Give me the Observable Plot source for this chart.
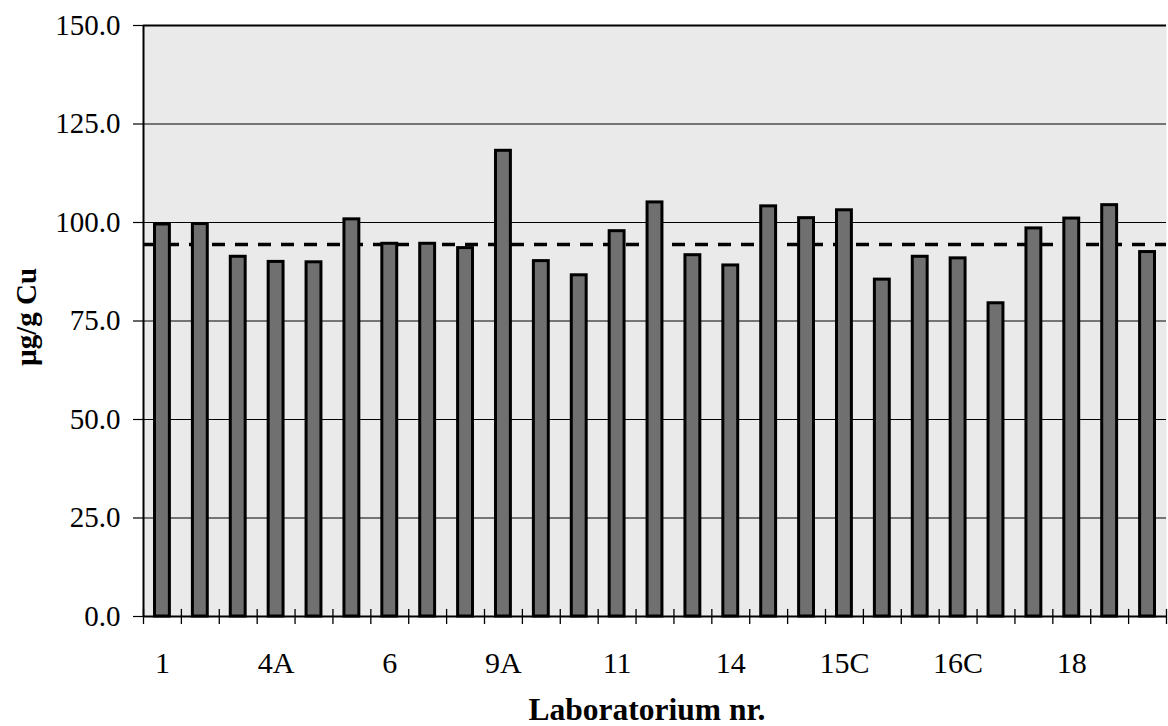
<!DOCTYPE html>
<html>
<head>
<meta charset="utf-8">
<script src="https://cdn.jsdelivr.net/npm/d3@7"></script>
<script src="https://cdn.jsdelivr.net/npm/@observablehq/plot@0.6"></script>
<style>
  html, body { margin: 0; padding: 0; background: #ffffff; }
  svg { display: block; }
  svg text { font-family: "Liberation Serif", "DejaVu Serif", serif; fill: #000; }
</style>
</head>
<body>
<div id="chart"></div>
<script>
// Laboratory codes (only every third is printed on the axis)
const labs = ["1","2","3","4A","4B","5","6","7","8","9A","9B","10","11","12","13","14",
              "15A","15B","15C","16A","16B","16C","17A","17B","18","19","20"];
// Measured copper content, µg/g Cu
const values = [99.5, 99.6, 91.3, 90.0, 89.9, 100.8, 94.6, 94.6, 93.5, 118.2, 90.2, 86.6, 97.8, 105.1,
                91.7, 89.1, 104.1, 101.1, 103.1, 85.5, 91.3, 90.9, 79.5, 98.5, 101.0, 104.4, 92.5];
// Reference (mean) level shown as dashed line
const meanLevel = [94.4];
const yTicks = [0, 25, 50, 75, 100, 125, 150];
const shownLabels = ["1","4A","6","9A","11","14","15C","16C","18"];

const data = labs.map((lab, i) => ({lab, i, value: values[i]}));
const labelData = data.filter(d => shownLabels.includes(d.lab));
const boundaries = d3.range(0, labs.length + 1);

const chart = Plot.plot({
  width: 1168,
  height: 726,
  marginLeft: 143,
  marginRight: 2,
  marginTop: 25,
  marginBottom: 110,
  style: {fontFamily: "Liberation Serif", background: "#ffffff"},
  x: {domain: [0, labs.length], axis: null},
  y: {domain: [0, 150], axis: null},
  marks: [
    Plot.frame({fill: "#eaeaea", stroke: "none"}),
    Plot.gridY(yTicks.filter(t => t > 0 && t < 150), {stroke: "#000", strokeOpacity: 1, strokeWidth: 1.2}),
    Plot.ruleY([150], {stroke: "#000", strokeWidth: 2.2}),
    Plot.ruleY(meanLevel, {stroke: "#000", strokeWidth: 3.5, strokeDasharray: "13,10"}),
    Plot.rectY(data, {
      x1: d => d.i, x2: d => d.i + 1, y: "value",
      insetLeft: 11.5, insetRight: 11.5,
      fill: "#707070", stroke: "#000", strokeWidth: 3
    }),
    // Axes lines
    Plot.ruleX([0], {stroke: "#000", strokeWidth: 2}),
    Plot.ruleY([0], {stroke: "#000", strokeWidth: 2}),
    // X boundary ticks crossing the axis (small tick marks)
    Plot.axisX(boundaries, {
      anchor: "bottom", tickSize: 8, tickFormat: () => null, label: null,
      stroke: "#000", strokeWidth: 1.3, strokeOpacity: 1
    }),
    Plot.ruleX(boundaries, {
      x: d => d, y1: 0, y2: 1.8,
      stroke: "#000", strokeWidth: 1.3
    }),
    // Y axis with ticks and labels
    Plot.axisY(yTicks, {
      anchor: "left", tickSize: 10, tickPadding: 13,
      tickFormat: d => d.toFixed(1), fontSize: 29, label: null, stroke: "#000", strokeWidth: 1.2
    }),
    // X labels at every third bar
    Plot.axisX(labelData.map(d => d.i + 0.5), {
      anchor: "bottom", tickSize: 0, tickPadding: 35, fontSize: 30, label: null,
      tickFormat: v => labs[Math.floor(v)]
    }),
    // Axis titles
    Plot.text(["Laboratorium nr."], {
      frameAnchor: "bottom", dx: -8, dy: 93, fontSize: 31.5, fontWeight: "bold", lineAnchor: "middle"
    }),
    Plot.text(["µg/g Cu"], {
      frameAnchor: "left", dx: -117, dy: -4, rotate: -90, fontSize: 29, fontWeight: "bold",
      lineAnchor: "middle", textAnchor: "middle"
    })
  ]
});
document.getElementById("chart").appendChild(chart);
</script>
</body>
</html>
